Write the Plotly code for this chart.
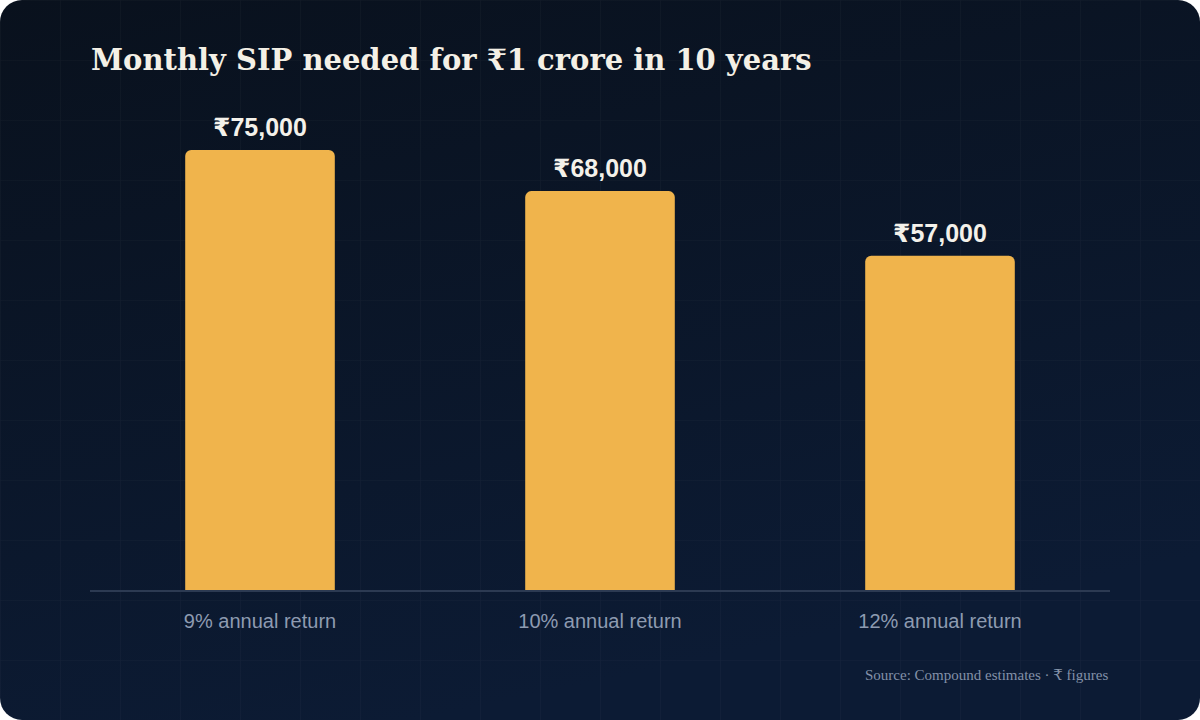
import base64
import plotly.graph_objects as go

# data
categories = ["9% annual return", "10% annual return", "12% annual return"]
sip_values = [75000, 68000, 57000]
value_labels = ["₹75,000", "₹68,000", "₹57,000"]

title_text = "Monthly SIP needed for ₹1 crore in 10 years"
source_text = "Source: Compound estimates · ₹ figures"

W, H = 1200, 720

# card background: rounded rect, soft gradient and faint 60px grid
bg_svg = f"""<svg xmlns='http://www.w3.org/2000/svg' width='{W}' height='{H}' viewBox='0 0 {W} {H}'>
<defs>
<linearGradient id='g' x1='0' y1='0' x2='0.35' y2='1'>
<stop offset='0' stop-color='#09111d'/>
<stop offset='1' stop-color='#0c1b34'/>
</linearGradient>
<pattern id='p' width='60' height='60' patternUnits='userSpaceOnUse'>
<path d='M60 0H0V60' fill='none' stroke='#ffffff' stroke-opacity='0.035' stroke-width='1.2'/>
</pattern>
</defs>
<rect width='{W}' height='{H}' rx='22' ry='22' fill='url(#g)'/>
<rect width='{W}' height='{H}' rx='22' ry='22' fill='url(#p)'/>
</svg>"""
bg_uri = "data:image/svg+xml;base64," + base64.b64encode(bg_svg.encode("utf-8")).decode()

fig = go.Figure()
fig.add_trace(go.Bar(
    x=categories,
    y=sip_values,
    width=0.44,
    marker=dict(color="#F0B44C", line=dict(width=0)),
    hoverinfo="skip",
))

for cat, val, lab in zip(categories, sip_values, value_labels):
    fig.add_annotation(
        x=cat, y=val, text=f"<b>{lab}</b>", showarrow=False,
        yanchor="bottom", yshift=7,
        font=dict(family="Liberation Sans, Arial, DejaVu Sans", size=25, color="#F4F1EA"),
    )

fig.add_annotation(
    xref="paper", yref="paper", x=89 / W, y=1 - 60 / H,
    xanchor="left", yanchor="middle", showarrow=False,
    text=f"<b>{title_text}</b>",
    font=dict(family="DejaVu Serif, Liberation Serif, serif", size=29, color="#F4F0E6"),
)
fig.add_annotation(
    xref="paper", yref="paper", x=1110 / W, y=1 - 675 / H,
    xanchor="right", yanchor="middle", showarrow=False,
    text=source_text,
    font=dict(family="Liberation Serif, DejaVu Serif, serif", size=15, color="#8391a8"),
)

fig.update_layout(
    width=W, height=H,
    margin=dict(l=0, r=0, t=0, b=0),
    paper_bgcolor="#ffffff",
    plot_bgcolor="rgba(0,0,0,0)",
    barcornerradius=6,
    showlegend=False,
    images=[dict(source=bg_uri, xref="paper", yref="paper", x=0, y=1,
                 sizex=1, sizey=1, xanchor="left", yanchor="top",
                 sizing="stretch", layer="below")],
)
fig.update_xaxes(
    domain=[90 / W, 1110 / W],
    range=[-0.5, 2.5],
    showgrid=False, zeroline=False,
    showline=True, linecolor="#2c3a52", linewidth=1.5,
    ticks="", ticklabelstandoff=12,
    tickfont=dict(family="Liberation Sans, Arial, sans-serif", size=20, color="#8e9bb1"),
    fixedrange=True,
)
fig.update_yaxes(
    domain=[1 - 590 / H, 1 - 109 / H],
    range=[0, 82000],
    visible=False, showgrid=False, zeroline=False,
    fixedrange=True,
)

fig.write_html("out.html", config={"displayModeBar": False},
               post_script="document.body.style.margin='0';")
